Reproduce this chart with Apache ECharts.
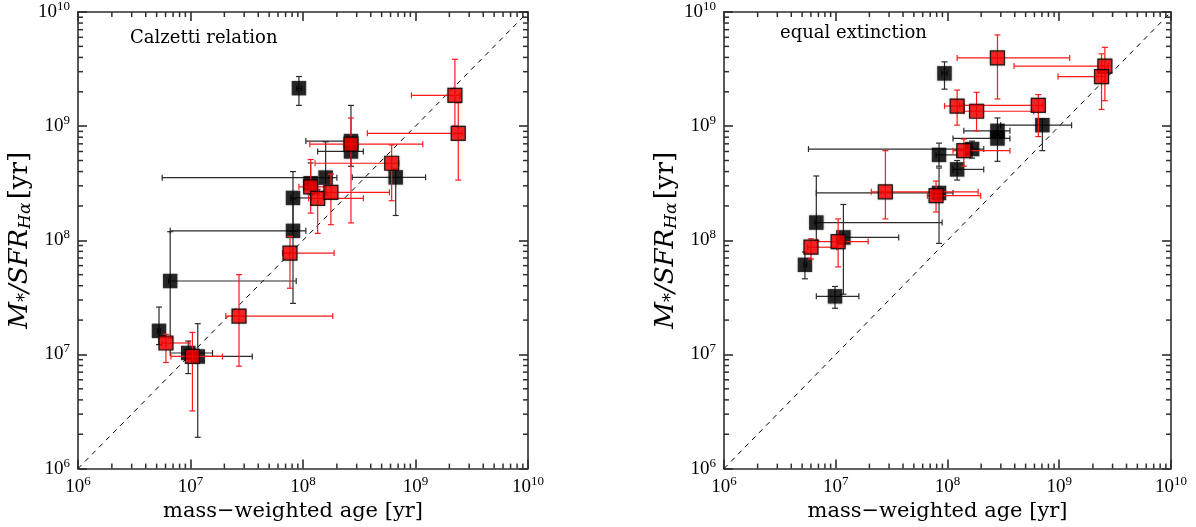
<!DOCTYPE html>
<html>
<head>
<meta charset="utf-8">
<script src="https://cdn.jsdelivr.net/npm/echarts@6/dist/echarts.min.js"></script>
<style>
html, body { margin: 0; padding: 0; background: #fff; }
#chart { width: 1196px; height: 527px; }
</style>
</head>
<body>
<div id="chart"></div>
<script>
// Each row: [age, M*/SFR, ageLow, ageHigh, ratioLow, ratioHigh]  (years)
const calzettiBlack = [
  [9.2e7, 2.15e9, 8.8e7, 9.7e7, 1.52e9, 2.72e9],
  [2.67e8, 7.4e8, 1.06e8, 2.9e8, 6.0e8, 1.52e9],
  [2.67e8, 6.0e8, 1.35e8, 3.44e8, 4.45e8, 7.0e8],
  [6.67e8, 3.56e8, 2.74e8, 1.23e9, 1.65e8, 4.2e8],
  [1.59e8, 3.54e8, 5.6e6, 2.0e8, 2.5e8, 7.3e8],
  [1.17e8, 3.16e8, 1.1e8, 1.25e8, 2.5e8, 4.76e8],
  [8.15e7, 2.35e8, 7.8e7, 1.19e8, 1.2e8, 4.0e8],
  [8.15e7, 1.21e8, 6.6e6, 1.06e8, 2.8e7, 2.3e8],
  [6.6e6, 4.4e7, 6.4e6, 8.7e7, 1.4e7, 1.19e8],
  [5.25e6, 1.61e7, 5.1e6, 5.4e6, 1.22e7, 2.6e7],
  [9.55e6, 1.03e7, 6.6e6, 1.57e7, 6.8e6, 1.31e7],
  [1.16e7, 9.6e6, 1.0e7, 3.54e7, 1.88e6, 1.86e7]
];
const calzettiRed = [
  [2.24e9, 1.86e9, 9.2e8, 2.5e9, 1.0e9, 3.85e9],
  [2.4e9, 8.65e8, 3.73e8, 2.6e9, 3.37e8, 1.6e9],
  [2.67e8, 6.95e8, 1.15e8, 1.16e9, 1.42e8, 1.18e9],
  [6.14e8, 4.73e8, 1.28e8, 7.1e8, 2.22e8, 6.85e8],
  [1.17e8, 2.94e8, 9.2e7, 1.6e8, 1.73e8, 5.1e8],
  [1.35e8, 2.33e8, 1.12e8, 3.44e8, 1.15e8, 2.8e8],
  [1.77e8, 2.63e8, 1.4e8, 5.86e8, 1.37e8, 3.8e8],
  [7.66e7, 7.73e7, 6.6e7, 1.89e8, 3.8e7, 1.08e8],
  [6.05e6, 1.26e7, 5.6e6, 9.9e6, 8.5e6, 1.5e7],
  [1.04e7, 9.6e6, 6.7e6, 1.92e7, 3.2e6, 1.56e7],
  [2.7e7, 2.17e7, 2.06e7, 1.84e8, 7.9e6, 5.0e7]
];
const equalBlack = [
  [9.4e7, 2.9e9, 8.9e7, 9.9e7, 2.11e9, 3.66e9],
  [7.06e8, 1.02e9, 2.99e8, 1.29e9, 6.1e8, 1.15e9],
  [2.8e8, 9.1e8, 1.4e8, 3.62e8, 7.8e8, 1.18e9],
  [2.8e8, 7.8e8, 1.12e8, 3.62e8, 4.92e8, 9.1e8],
  [1.66e8, 6.3e8, 5.7e6, 2.11e8, 5.25e8, 7.4e8],
  [8.4e7, 5.6e8, 7.9e7, 1.22e8, 4.46e8, 7.1e8],
  [1.22e8, 4.18e8, 1.12e8, 2.11e8, 3.37e8, 5.0e8],
  [8.4e7, 2.6e8, 6.7e6, 1.12e8, 9.4e7, 4.3e8],
  [6.7e6, 1.43e8, 6.5e6, 8.95e7, 1.0e8, 3.66e8],
  [1.17e7, 1.06e8, 1.1e7, 3.66e7, 3.37e7, 2.06e8],
  [5.3e6, 6.1e7, 5.2e6, 5.5e6, 4.6e7, 7.9e7],
  [9.85e6, 3.23e7, 6.7e6, 1.61e7, 2.54e7, 3.94e7]
];
const equalRed = [
  [2.8e8, 3.96e9, 1.22e8, 1.24e9, 1.73e9, 6.3e9],
  [2.56e9, 3.36e9, 3.94e8, 2.75e9, 1.67e9, 4.9e9],
  [2.39e9, 2.72e9, 9.75e8, 2.57e9, 1.4e9, 4.3e9],
  [1.22e8, 1.5e9, 9.4e7, 1.4e8, 1.02e9, 2.07e9],
  [1.82e8, 1.35e9, 1.4e8, 5.9e8, 9.1e8, 1.98e9],
  [6.5e8, 1.52e9, 1.28e8, 7.1e8, 8.1e8, 1.89e9],
  [1.4e8, 6.1e8, 1.12e8, 3.62e8, 4.46e8, 7.7e8],
  [2.78e7, 2.66e8, 2.08e7, 1.88e8, 1.54e8, 6.1e8],
  [7.9e7, 2.46e8, 6.6e7, 1.98e8, 1.77e8, 3.3e8],
  [1.05e7, 9.75e7, 6.8e6, 1.95e7, 5.85e7, 1.54e8],
  [6.0e6, 8.7e7, 5.6e6, 1.02e7, 6.85e7, 1.03e8]
];
const axisMin = 1e6;
const axisMax = 1e10;
const minorTickValues = [];
[1e6, 1e7, 1e8, 1e9].forEach(function (d) {
  for (let k = 2; k <= 9; k++) minorTickValues.push(k * d);
});
const panelTitles = ['Calzetti relation', 'equal extinction'];
const xTitle = 'mass\u2212weighted age [yr]';

const NUM_FONT = 'Liberation Serif';
const TEXT_FONT = 'DejaVu Serif';
const FRAME = '#2e2e2e';

function powerLabel(v) {
  const e = Math.round(Math.log10(v));
  return '{b|10}{s|' + e + '}';
}
const powerRich = {
  b: { fontFamily: NUM_FONT, fontSize: 19, color: '#000' },
  s: { fontFamily: NUM_FONT, fontSize: 13, color: '#000', padding: [0, 0, 11, 0] }
};

function makeAxis(pos) {
  const isX = pos === 'bottom' || pos === 'top';
  const labelled = pos === 'bottom' || pos === 'left';
  const axis = {
    type: 'log', logBase: 10, position: pos,
    min: axisMin, max: axisMax, interval: 1,
    axisLine: { show: true, lineStyle: { color: FRAME, width: 1.6 } },
    axisTick: { show: true, inside: true, length: 9, lineStyle: { color: FRAME, width: 1.6 } },
    axisLabel: { show: labelled, formatter: powerLabel, rich: powerRich, margin: isX ? 6 : 8 },
    splitLine: { show: false }
  };
  if (pos === 'bottom') {
    axis.name = xTitle;
    axis.nameLocation = 'middle';
    axis.nameGap = 24;
    axis.nameTextStyle = { fontFamily: TEXT_FONT, fontSize: 21, color: '#000', padding: [0, 20, 0, 0] };
  }
  if (pos === 'left') {
    axis.name = '{i|M}{sb|*}{i|/SFR}{sbi|H\u03b1} {n|[yr]}';
    axis.nameLocation = 'middle';
    axis.nameGap = 35;
    axis.nameRotate = 90;
    axis.nameTextStyle = {
      color: '#000',
      rich: {
        i: { fontFamily: TEXT_FONT, fontStyle: 'italic', fontSize: 26, color: '#000' },
        sb: { fontFamily: TEXT_FONT, fontSize: 18, color: '#000', padding: [10, 0, 0, 0] },
        sbi: { fontFamily: TEXT_FONT, fontStyle: 'italic', fontSize: 17, color: '#000', padding: [11, 0, 0, 0] },
        n: { fontFamily: TEXT_FONT, fontSize: 26, color: '#000' }
      }
    };
  }
  return axis;
}

function errorBarRenderer(color) {
  return function (params, api) {
    const x = api.value(0), y = api.value(1);
    const l = api.coord([api.value(2), y]);
    const r = api.coord([api.value(3), y]);
    const b = api.coord([x, api.value(4)]);
    const t = api.coord([x, api.value(5)]);
    const cap = 3;
    const seg = function (x1, y1, x2, y2) {
      return { type: 'line', shape: { x1: x1, y1: y1, x2: x2, y2: y2 }, style: { stroke: color, lineWidth: 1.2 } };
    };
    return {
      type: 'group',
      children: [
        seg(l[0], l[1], r[0], r[1]),
        seg(l[0], l[1] - cap, l[0], l[1] + cap),
        seg(r[0], r[1] - cap, r[0], r[1] + cap),
        seg(b[0], b[1], t[0], t[1]),
        seg(b[0] - cap, b[1], b[0] + cap, b[1]),
        seg(t[0] - cap, t[1], t[0] + cap, t[1])
      ]
    };
  };
}

function panelSeries(axisIdx, black, red) {
  const common = { xAxisIndex: axisIdx, yAxisIndex: axisIdx };
  const pts = function (rows) { return rows.map(function (d) { return [d[0], d[1]]; }); };
  return [
    Object.assign({
      type: 'line', data: [[axisMin, axisMin], [axisMax, axisMax]],
      symbol: 'none', silent: true,
      lineStyle: { color: '#000', width: 1, type: [5, 5] }, z: 2
    }, common),
    Object.assign({
      type: 'custom', renderItem: errorBarRenderer('#2b2b2b'), data: black,
      dimensions: ['x', 'y', 'xl', 'xh', 'yl', 'yh'], encode: { x: 0, y: 1 }, z: 3
    }, common),
    Object.assign({
      type: 'scatter', data: pts(black), symbol: 'rect', symbolSize: 14.5,
      itemStyle: { color: '#000', shadowBlur: 2, shadowColor: 'rgba(0,0,0,0.35)' }, z: 4
    }, common),
    Object.assign({
      type: 'custom', renderItem: errorBarRenderer('#ff1a1a'), data: red,
      dimensions: ['x', 'y', 'xl', 'xh', 'yl', 'yh'], encode: { x: 0, y: 1 }, z: 5
    }, common),
    Object.assign({
      type: 'scatter', data: pts(red), symbol: 'rect', symbolSize: 14,
      itemStyle: { color: '#ff0000', borderColor: '#000', borderWidth: 1.2, shadowBlur: 2, shadowColor: 'rgba(0,0,0,0.35)' }, z: 6
    }, common)
  ];
}

const titleGraphics = [
  { type: 'text', left: 130, top: 29, style: { text: panelTitles[0], fontFamily: TEXT_FONT, fontSize: 18, fill: '#000' } },
  { type: 'text', left: 780, top: 24, style: { text: panelTitles[1], fontFamily: TEXT_FONT, fontSize: 18, fill: '#000' } }
];

const xAxes = ['bottom', 'top', 'bottom', 'top'].map(makeAxis);
const yAxes = ['left', 'right', 'left', 'right'].map(makeAxis);
xAxes.forEach(function (a, i) { a.gridIndex = i < 2 ? 0 : 1; });
yAxes.forEach(function (a, i) { a.gridIndex = i < 2 ? 0 : 1; });

const chart = echarts.init(document.getElementById('chart'));
chart.setOption({
  animation: false,
  grid: [
    { left: 78, top: 10, width: 450, height: 464 },
    { left: 724, top: 10, width: 447, height: 464 }
  ],
  xAxis: xAxes,
  yAxis: yAxes,
  series: panelSeries(0, calzettiBlack, calzettiRed).concat(panelSeries(2, equalBlack, equalRed))
});

// Minor ticks at 2..9 x 10^k, placed through each panel's log scales, inward on all four sides
const minorLen = 5;
const tickGraphics = [];
[0, 2].forEach(function (ai) {
  const yBottom = chart.convertToPixel({ yAxisIndex: ai }, axisMin);
  const yTop = chart.convertToPixel({ yAxisIndex: ai }, axisMax);
  const xLeft = chart.convertToPixel({ xAxisIndex: ai }, axisMin);
  const xRight = chart.convertToPixel({ xAxisIndex: ai }, axisMax);
  minorTickValues.forEach(function (v) {
    const xb = chart.convertToPixel({ xAxisIndex: ai }, v);
    const yl = chart.convertToPixel({ yAxisIndex: ai }, v);
    [[xb, yBottom, xb, yBottom - minorLen],
     [xb, yTop, xb, yTop + minorLen],
     [xLeft, yl, xLeft + minorLen, yl],
     [xRight, yl, xRight - minorLen, yl]].forEach(function (s) {
      tickGraphics.push({
        type: 'line', z: 20,
        shape: { x1: s[0], y1: s[1], x2: s[2], y2: s[3] },
        style: { stroke: FRAME, lineWidth: 1.5 }
      });
    });
  });
});
chart.setOption({ graphic: titleGraphics.concat(tickGraphics) });
</script>
</body>
</html>
